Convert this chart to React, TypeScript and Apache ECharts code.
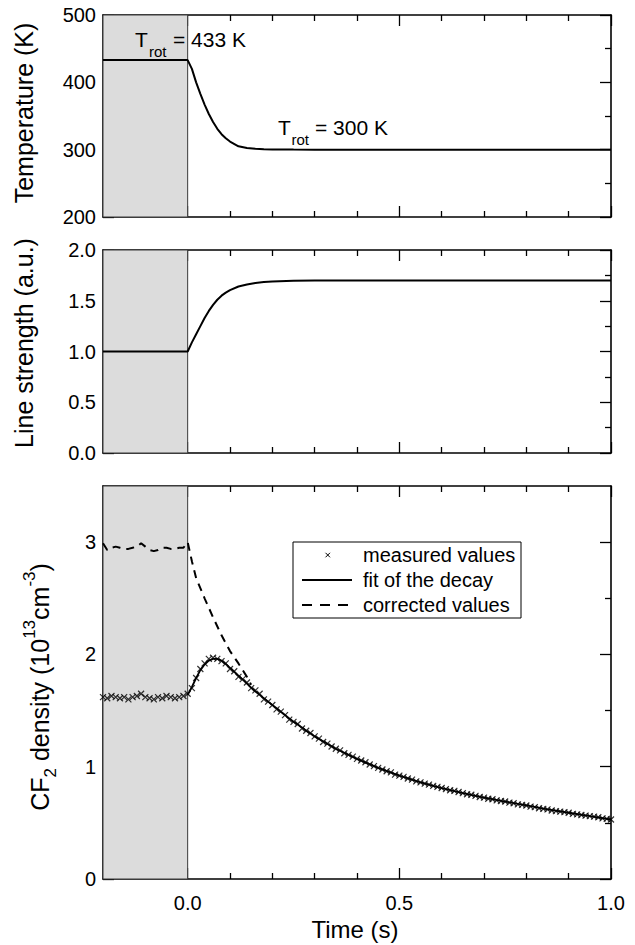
import React, { useEffect, useRef } from "react";
import * as echarts from "echarts";

// ---------- axis ticks ----------
const timeMin = -0.2;
const timeMax = 1.0;
const timeMajorTicks = [0, 0.5, 1.0];
const timeMinorTicks = [-0.1, 0.1, 0.2, 0.3, 0.4, 0.6, 0.7, 0.8, 0.9];

const tempMajorTicks = [200, 300, 400, 500];
const tempMinorTicks = [250, 350, 450];
const strengthMajorTicks = [0, 0.5, 1.0, 1.5, 2.0];
const strengthMinorTicks = [0.25, 0.75, 1.25, 1.75];
const densityMajorTicks = [0, 1, 2, 3];
const densityMinorTicks = [0.5, 1.5, 2.5];

// ---------- panel 1: rotational temperature ----------
const tempTime = [-0.2, 0, 0.01, 0.02, 0.03, 0.04, 0.05, 0.06, 0.07, 0.08, 0.09, 0.1, 0.12, 0.14, 0.16, 0.18, 0.2, 0.25, 0.3, 1.0];
const tempValue = [433, 433, 420, 400, 383, 367, 353, 341, 331, 323, 317, 312, 305, 302.5, 301.2, 300.6, 300.3, 300.1, 300, 300];

// ---------- panel 2: line strength ----------
const strengthTime = [-0.2, 0, 0.01, 0.02, 0.03, 0.04, 0.05, 0.06, 0.07, 0.08, 0.09, 0.1, 0.12, 0.14, 0.16, 0.18, 0.2, 0.25, 0.3, 1.0];
const strengthValue = [1.0, 1.0, 1.09, 1.17, 1.25, 1.33, 1.4, 1.46, 1.51, 1.55, 1.58, 1.605, 1.64, 1.66, 1.675, 1.685, 1.69, 1.697, 1.7, 1.7];

// ---------- panel 3: CF2 density ----------
const measuredStart = -0.2;
const measuredStep = 0.01;
const measuredValue = [
  1.62, 1.61, 1.63, 1.62, 1.61, 1.62, 1.6, 1.62, 1.63, 1.65,
  1.62, 1.61, 1.6, 1.62, 1.61, 1.63, 1.62, 1.61, 1.62, 1.63,
  1.65, 1.7, 1.79, 1.87, 1.92, 1.96, 1.97, 1.96, 1.94, 1.92,
  1.87, 1.85, 1.8, 1.78, 1.75, 1.7, 1.68, 1.65, 1.6, 1.58,
  1.55, 1.51, 1.49, 1.46, 1.42, 1.4, 1.38, 1.34, 1.32, 1.3,
  1.27, 1.25, 1.22, 1.205, 1.18, 1.16, 1.145, 1.12, 1.105, 1.09,
  1.07, 1.055, 1.04, 1.02, 1.005, 0.99, 0.975, 0.96, 0.95, 0.93,
  0.92, 0.91, 0.895, 0.885, 0.87, 0.86, 0.85, 0.84, 0.83, 0.82,
  0.81, 0.8, 0.79, 0.785, 0.775, 0.765, 0.755, 0.75, 0.74, 0.73,
  0.725, 0.715, 0.71, 0.7, 0.695, 0.69, 0.68, 0.675, 0.665, 0.66,
  0.655, 0.645, 0.64, 0.63, 0.625, 0.62, 0.61, 0.605, 0.6, 0.595,
  0.59, 0.58, 0.575, 0.57, 0.565, 0.56, 0.555, 0.55, 0.54, 0.535,
  0.53,
];

const fitTime = [0, 0.01, 0.02, 0.03, 0.04, 0.05, 0.06, 0.07, 0.08, 0.09, 0.1, 0.11, 0.12, 0.13, 0.14, 0.15, 0.16, 0.17, 0.18, 0.19, 0.2, 0.21, 0.22, 0.23, 0.24, 0.25, 0.26, 0.27, 0.28, 0.29, 0.3, 0.35, 0.4, 0.45, 0.5, 0.55, 0.6, 0.65, 0.7, 0.75, 0.8, 0.85, 0.9, 0.95, 1.0];
const fitValue = [1.64, 1.71, 1.79, 1.86, 1.91, 1.945, 1.96, 1.96, 1.945, 1.915, 1.88, 1.845, 1.81, 1.775, 1.74, 1.705, 1.67, 1.64, 1.61, 1.58, 1.55, 1.52, 1.49, 1.46, 1.43, 1.4, 1.375, 1.35, 1.32, 1.295, 1.27, 1.16, 1.07, 0.99, 0.92, 0.86, 0.81, 0.765, 0.725, 0.69, 0.655, 0.62, 0.59, 0.56, 0.53];

const correctedTime = [-0.2, -0.19, -0.18, -0.17, -0.16, -0.15, -0.14, -0.13, -0.12, -0.11, -0.1, -0.09, -0.08, -0.07, -0.06, -0.05, -0.04, -0.03, -0.02, -0.01, 0, 0.01, 0.02, 0.04, 0.06, 0.08, 0.1, 0.12, 0.14, 0.15];
const correctedValue = [2.99, 2.93, 2.95, 2.96, 2.95, 2.94, 2.94, 2.95, 2.96, 2.99, 2.96, 2.93, 2.92, 2.93, 2.95, 2.95, 2.94, 2.94, 2.95, 2.95, 3.0, 2.83, 2.68, 2.5, 2.33, 2.17, 2.03, 1.92, 1.8, 1.73];

const legendNames = ["measured values", "fit of the decay", "corrected values"];

const FONT = '"Liberation Sans", Arial, Helvetica, sans-serif';
const BLACK = "#000";

const grids = [
  { left: 103, top: 15, width: 508, height: 202 },
  { left: 103, top: 250, width: 508, height: 203 },
  { left: 103, top: 486, width: 508, height: 393 },
];

function buildOption() {
  const xAxes: any[] = [];
  const yAxes: any[] = [];
  const xMain: number[] = [];
  const yMain: number[] = [];

  const addX = (g: number, pos: string, major: boolean, showLabel: boolean) => {
    xAxes.push({
      type: "value",
      gridIndex: g,
      position: pos,
      min: timeMin,
      max: timeMax,
      axisLine: { show: major, onZero: false, lineStyle: { color: BLACK, width: 1.6 } },
      axisTick: {
        show: true,
        inside: true,
        length: major ? 11 : 6,
        customValues: major ? timeMajorTicks : timeMinorTicks,
        lineStyle: { color: BLACK, width: 1.3 },
      },
      axisLabel: {
        show: showLabel,
        customValues: timeMajorTicks,
        formatter: (v: number) => v.toFixed(1),
        margin: 14,
        color: BLACK,
        fontSize: 20,
        fontFamily: FONT,
      },
      splitLine: { show: false },
    });
    return xAxes.length - 1;
  };

  const addY = (g: number, pos: string, major: boolean, min: number, max: number, ticks: number[], showLabel: boolean, digits: number) => {
    yAxes.push({
      type: "value",
      gridIndex: g,
      position: pos,
      min,
      max,
      axisLine: { show: major, onZero: false, lineStyle: { color: BLACK, width: 1.6 } },
      axisTick: {
        show: true,
        inside: true,
        length: major ? 11 : 6,
        customValues: ticks,
        lineStyle: { color: BLACK, width: 1.3 },
      },
      axisLabel: {
        show: showLabel,
        customValues: ticks,
        formatter: (v: number) => v.toFixed(digits),
        margin: 7,
        color: BLACK,
        fontSize: 20,
        fontFamily: FONT,
      },
      splitLine: { show: false },
    });
    return yAxes.length - 1;
  };

  const yDefs = [
    { min: 200, max: 500, major: tempMajorTicks, minor: tempMinorTicks, digits: 0 },
    { min: 0, max: 2, major: strengthMajorTicks, minor: strengthMinorTicks, digits: 1 },
    { min: 0, max: 3.5, major: densityMajorTicks, minor: densityMinorTicks, digits: 0 },
  ];

  for (let g = 0; g < 3; g++) {
    xMain.push(addX(g, "bottom", true, g === 2));
    addX(g, "bottom", false, false);
    addX(g, "top", true, false);
    addX(g, "top", false, false);
    const d = yDefs[g];
    yMain.push(addY(g, "left", true, d.min, d.max, d.major, true, d.digits));
    addY(g, "left", false, d.min, d.max, d.minor, false, d.digits);
    addY(g, "right", true, d.min, d.max, d.major, false, d.digits);
    addY(g, "right", false, d.min, d.max, d.minor, false, d.digits);
  }

  const series: any[] = [];
  for (let g = 0; g < 3; g++) {
    series.push({
      type: "line",
      xAxisIndex: xMain[g],
      yAxisIndex: yMain[g],
      data: [],
      z: 1,
      silent: true,
      markArea: {
        silent: true,
        itemStyle: { color: "#dcdcdc", borderColor: "#3a3a3a", borderWidth: 1 },
        data: [[{ xAxis: timeMin }, { xAxis: 0 }]],
      },
    });
  }

  series.push({
    name: "Temperature",
    type: "line",
    xAxisIndex: xMain[0],
    yAxisIndex: yMain[0],
    symbol: "none",
    z: 3,
    lineStyle: { color: BLACK, width: 2 },
    data: tempTime.map((t, i) => [t, tempValue[i]]),
  });
  series.push({
    name: "Line strength",
    type: "line",
    xAxisIndex: xMain[1],
    yAxisIndex: yMain[1],
    symbol: "none",
    z: 3,
    lineStyle: { color: BLACK, width: 2 },
    data: strengthTime.map((t, i) => [t, strengthValue[i]]),
  });
  series.push({
    name: legendNames[0],
    type: "scatter",
    xAxisIndex: xMain[2],
    yAxisIndex: yMain[2],
    symbol: "path://M0,0L10,10M10,0L0,10",
    symbolSize: 6,
    z: 4,
    itemStyle: { color: "none", borderColor: BLACK, borderWidth: 1.2 },
    data: measuredValue.map((v, i) => [measuredStart + i * measuredStep, v]),
  });
  series.push({
    name: legendNames[1],
    type: "line",
    xAxisIndex: xMain[2],
    yAxisIndex: yMain[2],
    symbol: "none",
    z: 3,
    lineStyle: { color: BLACK, width: 1.8 },
    data: fitTime.map((t, i) => [t, fitValue[i]]),
  });
  series.push({
    name: legendNames[2],
    type: "line",
    xAxisIndex: xMain[2],
    yAxisIndex: yMain[2],
    symbol: "none",
    z: 3,
    lineStyle: { color: BLACK, width: 2, type: [8, 6] },
    data: correctedTime.map((t, i) => [t, correctedValue[i]]),
  });

  const txt = (x: number, y: number, text: string, size: number, extra: any = {}) => ({
    type: "text",
    x,
    y,
    z: 10,
    style: {
      text,
      fill: BLACK,
      textFill: BLACK,
      font: `${size}px ${FONT}`,
      align: extra.align || "left",
      textAlign: extra.align || "left",
      verticalAlign: "middle",
      textVerticalAlign: "middle",
    },
  });

  const graphic: any[] = [
    // annotations
    txt(135, 39.5, "T", 21),
    txt(149, 51.5, "rot", 15),
    txt(173, 39.5, "= 433 K", 21),
    txt(278, 127.7, "T", 21),
    txt(291.5, 139.8, "rot", 15),
    txt(315, 127.7, "= 300 K", 21),
    // axis titles
    { type: "text", x: 24, y: 113, rotation: Math.PI / 2, z: 10,
      style: { text: "Temperature (K)", fill: BLACK, textFill: BLACK, font: `25px ${FONT}`, align: "center", textAlign: "center", verticalAlign: "middle", textVerticalAlign: "middle" } },
    { type: "text", x: 24, y: 343, rotation: Math.PI / 2, z: 10,
      style: { text: "Line strength (a.u.)", fill: BLACK, textFill: BLACK, font: `25px ${FONT}`, align: "center", textAlign: "center", verticalAlign: "middle", textVerticalAlign: "middle" } },
    { type: "text", x: 40, y: 687, rotation: Math.PI / 2, z: 10,
      style: {
        text: "{m|CF}{sub|2}{m| density (10}{sup|13}{m|cm}{sup|-3}{m|)}",
        fill: BLACK, textFill: BLACK,
        font: `25px ${FONT}`,
        align: "center", textAlign: "center", verticalAlign: "middle", textVerticalAlign: "middle",
        rich: {
          m: { fontSize: 25, fontFamily: FONT, lineHeight: 38, fill: BLACK, textFill: BLACK },
          sub: { fontSize: 17, fontFamily: FONT, lineHeight: 17, verticalAlign: "bottom", textVerticalAlign: "bottom", fill: BLACK, textFill: BLACK },
          sup: { fontSize: 17, fontFamily: FONT, lineHeight: 17, verticalAlign: "top", textVerticalAlign: "top", fill: BLACK, textFill: BLACK },
        },
      } },
    txt(355, 929, "Time (s)", 24, { align: "center" }),
    // legend
    { type: "rect", z: 9, shape: { x: 293, y: 542, width: 228, height: 76 }, style: { fill: "#fff", stroke: BLACK, lineWidth: 1 } },
    { type: "line", z: 10, shape: { x1: 325.5, y1: 552.8, x2: 330, y2: 557.3 }, style: { stroke: BLACK, lineWidth: 1 } },
    { type: "line", z: 10, shape: { x1: 330, y1: 552.8, x2: 325.5, y2: 557.3 }, style: { stroke: BLACK, lineWidth: 1 } },
    { type: "line", z: 10, shape: { x1: 302, y1: 580, x2: 352, y2: 580 }, style: { stroke: BLACK, lineWidth: 2 } },
    { type: "line", z: 10, shape: { x1: 302, y1: 605, x2: 352, y2: 605 }, style: { stroke: BLACK, lineWidth: 2, lineDash: [10, 8] } },
    txt(363, 555, legendNames[0], 20),
    txt(363, 580, legendNames[1], 20),
    txt(363, 605, legendNames[2], 20),
  ];

  return {
    animation: false,
    backgroundColor: "#fff",
    textStyle: { fontFamily: FONT },
    grid: grids,
    xAxis: xAxes,
    yAxis: yAxes,
    series,
    graphic,
  };
}

export default function App() {
  const ref = useRef<HTMLDivElement>(null);
  useEffect(() => {
    if (!ref.current) return;
    const chart = echarts.init(ref.current, null, { renderer: "svg" });
    chart.setOption(buildOption() as any);
    return () => chart.dispose();
  }, []);
  return (
    <div
      ref={ref}
      style={{ position: "absolute", left: 0, top: 0, width: 635, height: 945, background: "#fff" }}
    />
  );
}
